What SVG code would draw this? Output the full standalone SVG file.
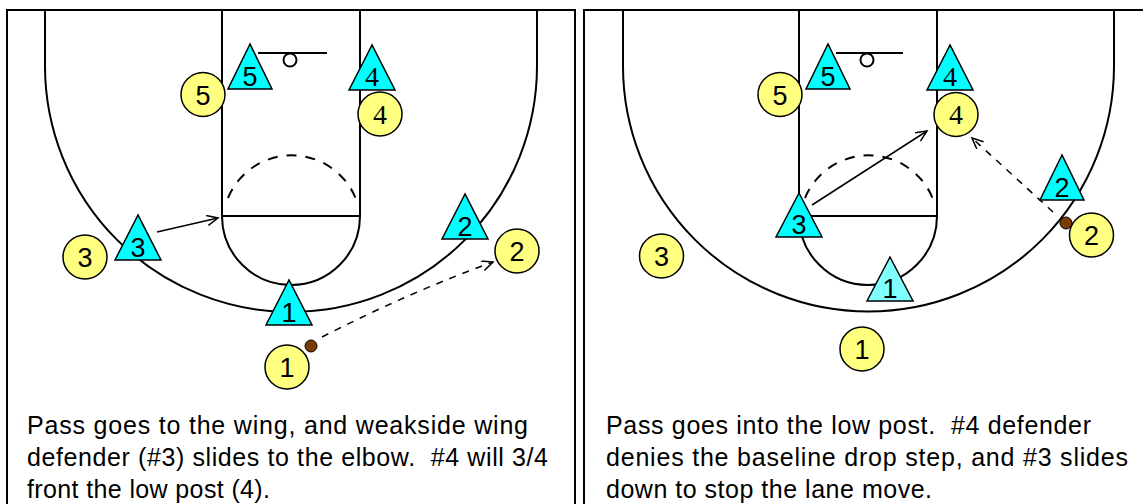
<svg xmlns="http://www.w3.org/2000/svg" width="1143" height="504" viewBox="0 0 1143 504">
<style>
.ln{fill:none;stroke:#000;stroke-width:2}
.dash{fill:none;stroke:#000;stroke-width:2;stroke-dasharray:10 9}
.arr{fill:none;stroke:#000;stroke-width:1.5}
.pd{stroke-dasharray:7 7}
.def{fill:#00ffff;stroke:#000;stroke-width:1.5;stroke-linejoin:miter}
.defl{fill:#80ffff;stroke:#000;stroke-width:1.5}
.off{fill:#ffff80;stroke:#000;stroke-width:1.5}
.ball{fill:#7a3c00;stroke:#000;stroke-width:1}
.num{font-family:"Liberation Sans",Arial,sans-serif;font-size:27px;text-anchor:middle;fill:#000}
.ser{font-family:"Liberation Serif","Times New Roman",serif;font-size:28px}
.cap{font-family:"Liberation Sans",Arial,sans-serif;font-size:25px;fill:#000}
</style>
<defs>
<marker id="ah" markerUnits="userSpaceOnUse" markerWidth="14" markerHeight="12" refX="12" refY="5" orient="auto">
<path d="M1,0 L12,5 L1,10" fill="none" stroke="#000" stroke-width="1.5"/>
</marker>
</defs>
<rect width="1143" height="504" fill="#fff"/>

<g id="court-left">
<path class="ln" d="M7,504 V10 H575 V504"/>
<path class="ln" d="M45,10 V66 A246,246 0 0 0 537,66 V10"/>
<path class="ln" d="M222,10 V216 H360 V10"/>
<path class="ln" d="M222,216 A69,69 0 0 0 360,216"/>
<path class="dash" d="M228,198 A69,69 0 0 1 358,205"/>
<path class="ln" d="M258,53 H327"/>
<circle class="ln" cx="290" cy="60" r="6.5" stroke-width="1.5"/>
</g>

<g id="court-right">
<path class="ln" d="M584,504 V10 H1143"/>
<path class="ln" d="M623,10 V66 A245.5,245.5 0 0 0 1114,66 V10"/>
<path class="ln" d="M799,10 V216 H937 V10"/>
<path class="ln" d="M799,216 A69,69 0 0 0 937,216"/>
<path class="dash" d="M805,198 A69,69 0 0 1 935,205"/>
<path class="ln" d="M836,53 H903"/>
<circle class="ln" cx="867" cy="60" r="6.5" stroke-width="1.5"/>
</g>

<g id="connectors">
<line class="arr" x1="157" y1="232" x2="218" y2="218" marker-end="url(#ah)"/>
<path class="arr pd" d="M322,337 Q410,292 493,262" marker-end="url(#ah)"/>
<line class="arr" x1="812" y1="205" x2="927" y2="131" marker-end="url(#ah)"/>
<line class="arr pd" x1="1053" y1="212" x2="972" y2="138" marker-end="url(#ah)"/>
</g>

<g id="L-d5"><polygon class="def" points="250,44 228,89 272,89"/><text class="num" x="250" y="86">5</text></g>
<g id="L-o5"><circle class="off" cx="203" cy="94.5" r="22"/><text class="num" x="203" y="105">5</text></g>
<g id="L-d4"><polygon class="def" points="372,45 349,90 395,90"/><text class="num ser" x="372" y="86">4</text></g>
<g id="L-o4"><circle class="off" cx="380" cy="114" r="22"/><text class="num ser" x="380" y="124">4</text></g>
<g id="L-d3"><polygon class="def" points="138,215 115,260 161,260"/><text class="num" x="138" y="257">3</text></g>
<g id="L-o3"><circle class="off" cx="85" cy="257" r="22"/><text class="num" x="85" y="267">3</text></g>
<g id="L-d1"><polygon class="def" points="289,280 266,325 312,325"/><text class="num" x="289" y="322">1</text></g>
<g id="L-o1"><circle class="off" cx="287" cy="367" r="22"/><text class="num" x="287" y="377">1</text></g>
<g id="L-d2"><polygon class="def" points="465,194 442,239 488,239"/><text class="num" x="465" y="236">2</text></g>
<g id="L-o2"><circle class="off" cx="517" cy="251" r="22"/><text class="num" x="517" y="261">2</text></g>
<g id="L-ball"><circle class="ball" cx="311" cy="346" r="6"/></g>

<g id="R-d5"><polygon class="def" points="828,44 806,89 850,89"/><text class="num" x="828" y="86">5</text></g>
<g id="R-o5"><circle class="off" cx="780" cy="94.5" r="22"/><text class="num" x="780" y="105">5</text></g>
<g id="R-d4"><polygon class="def" points="950,45 927,90 973,90"/><text class="num ser" x="950" y="86">4</text></g>
<g id="R-o4"><circle class="off" cx="956" cy="114.5" r="22"/><text class="num ser" x="956" y="124">4</text></g>
<g id="R-d3"><polygon class="def" points="799,193 776,237 822,237"/><text class="num" x="799" y="234">3</text></g>
<g id="R-o3"><circle class="off" cx="661.5" cy="256" r="22"/><text class="num" x="661.5" y="266">3</text></g>
<g id="R-d1"><polygon class="defl" points="890,257 867,301 913,301"/><text class="num" x="890" y="298">1</text></g>
<g id="R-o1"><circle class="off" cx="862" cy="349" r="22"/><text class="num" x="862" y="359">1</text></g>
<g id="R-d2"><polygon class="def" points="1062,155 1040,200 1084,200"/><text class="num" x="1062" y="197">2</text></g>
<g id="R-o2"><circle class="off" cx="1091.5" cy="235" r="22"/><text class="num" x="1091.5" y="245">2</text></g>
<g id="R-ball"><circle class="ball" cx="1066" cy="223" r="6"/></g>

<g id="caption-left">
<text class="cap" x="27" y="434" textLength="501">Pass goes to the wing, and weakside wing</text>
<text class="cap" x="27" y="466" textLength="521" xml:space="preserve">defender (#3) slides to the elbow.  #4 will 3/4</text>
<text class="cap" x="27" y="498" textLength="243">front the low post (4).</text>
</g>
<g id="caption-right">
<text class="cap" x="606" y="434" textLength="485" xml:space="preserve">Pass goes into the low post.  #4 defender</text>
<text class="cap" x="606" y="466" textLength="522">denies the baseline drop step, and #3 slides</text>
<text class="cap" x="606" y="498" textLength="326">down to stop the lane move.</text>
</g>
</svg>
